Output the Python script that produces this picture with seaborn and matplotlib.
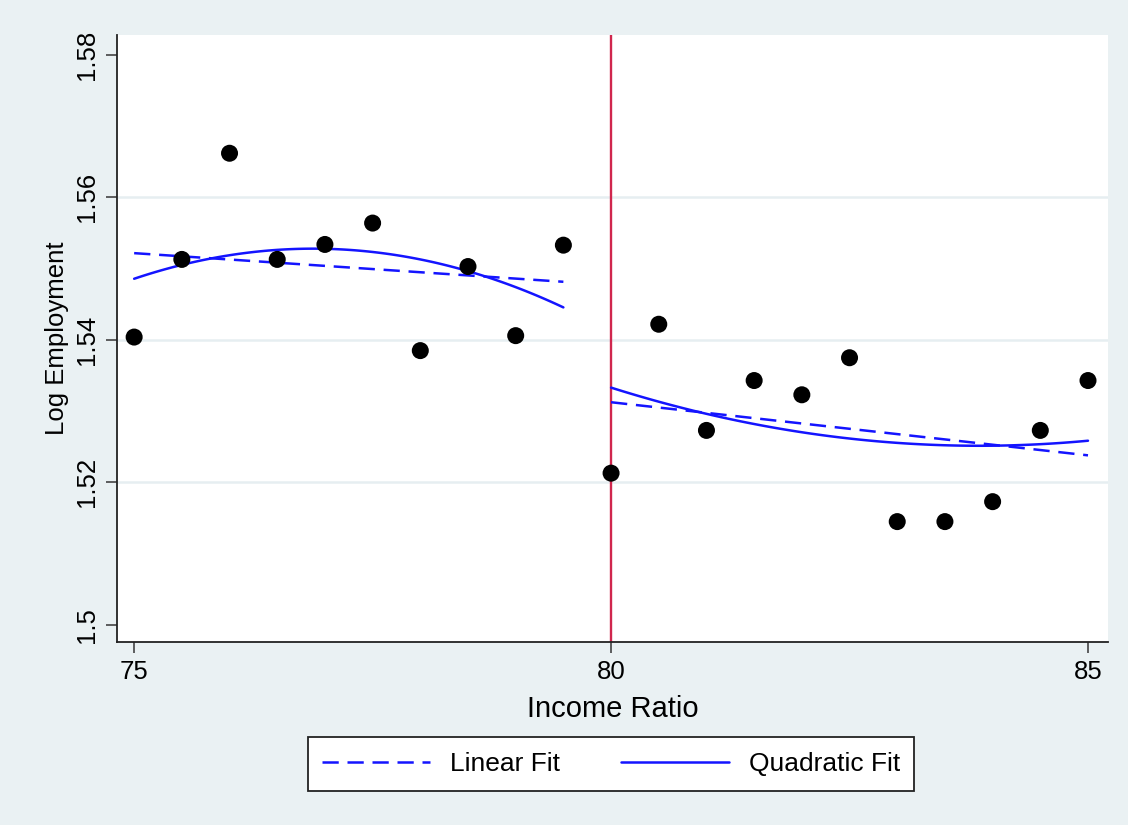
import numpy as np
import pandas as pd
import matplotlib
matplotlib.use("Agg")
import matplotlib.pyplot as plt
from matplotlib.lines import Line2D
import seaborn as sns

# =============================
# binned data

income_ratio = [75.0, 75.5, 76.0, 76.5, 77.0, 77.5, 78.0, 78.5, 79.0, 79.5,
                80.0, 80.5, 81.0, 81.5, 82.0, 82.5, 83.0, 83.5, 84.0, 84.5, 85.0]
log_employment = [1.5404, 1.5513, 1.5662, 1.5513, 1.5534, 1.5564, 1.5385, 1.5503, 1.5406, 1.5533,
                  1.5213, 1.5422, 1.5273, 1.5343, 1.5323, 1.5375, 1.5145, 1.5145, 1.5173, 1.5273, 1.5343]
cutoff = 80
y_ticks = [1.50, 1.52, 1.54, 1.56, 1.58]
y_tick_labels = ["1.5", "1.52", "1.54", "1.56", "1.58"]
y_grid = [1.52, 1.54, 1.56]
x_ticks = [75, 80, 85]

# =============================

df = pd.DataFrame({"x": income_ratio, "y": log_employment})
left = df[df["x"] < cutoff]
right = df[df["x"] >= cutoff]

BG = "#eaf1f3"
GRID = "#e6eef1"
BLUE = "#1414ff"

sns.set_style("white")
plt.rcParams["font.family"] = ["Liberation Sans", "DejaVu Sans"]
plt.rcParams["text.color"] = "black"
plt.rcParams["axes.labelcolor"] = "black"
plt.rcParams["xtick.color"] = "black"
plt.rcParams["ytick.color"] = "black"

fig = plt.figure(figsize=(11.28, 8.25), dpi=100, facecolor=BG)
ax = fig.add_axes([0.1037, 0.2218, 0.8786, 0.7358])
ax.set_facecolor("white")

# grid lines first so everything sits on top
for yt in y_grid:
    ax.axhline(yt, color=GRID, linewidth=1.8, zorder=0)

ax.axvline(cutoff, color="#d0264d", linewidth=1.7, zorder=1)

sns.scatterplot(data=df, x="x", y="y", color="black", s=150, edgecolor="none", ax=ax, zorder=4)

for side in [left, right]:
    sns.regplot(data=side, x="x", y="y", order=1, ci=None, scatter=False, ax=ax,
                line_kws={"color": BLUE, "linewidth": 1.8, "dashes": (6.5, 3.5), "zorder": 3})
    sns.regplot(data=side, x="x", y="y", order=2, ci=None, scatter=False, ax=ax,
                line_kws={"color": BLUE, "linewidth": 1.8, "zorder": 3})

ax.set_xlim(74.82, 85.21)
ax.set_ylim(1.4976, 1.5828)
ax.set_xticks(x_ticks)
ax.set_yticks(y_ticks)
ax.set_yticklabels(y_tick_labels, rotation=90, va="center")
ax.tick_params(axis="both", direction="out", length=8, width=1.2, color="#444444",
               labelsize=18.5, pad=5, left=True, bottom=True)

for s in ["top", "right"]:
    ax.spines[s].set_visible(False)
for s in ["left", "bottom"]:
    ax.spines[s].set_color("#222222")
    ax.spines[s].set_linewidth(1.3)

ax.set_xlabel("Income Ratio", fontsize=21, labelpad=8)
ax.set_ylabel("Log Employment", fontsize=18.5, labelpad=4)

# legend handles
handles = [Line2D([], [], color=BLUE, linewidth=1.8, dashes=(6.5, 3.5)),
           Line2D([], [], color=BLUE, linewidth=1.8)]
leg = fig.legend(handles, ["Linear Fit", "Quadratic Fit"], loc="center",
                 bbox_to_anchor=(611 / 1128, 1 - 764 / 825), ncol=2, fontsize=19,
                 frameon=True, fancybox=False, facecolor="white", framealpha=1,
                 edgecolor="#222222", handlelength=4.1, columnspacing=2.3,
                 handletextpad=0.75, borderpad=0.55, borderaxespad=0)
leg.get_frame().set_linewidth(1.3)

fig.savefig("out.png", dpi=100, facecolor=BG)
